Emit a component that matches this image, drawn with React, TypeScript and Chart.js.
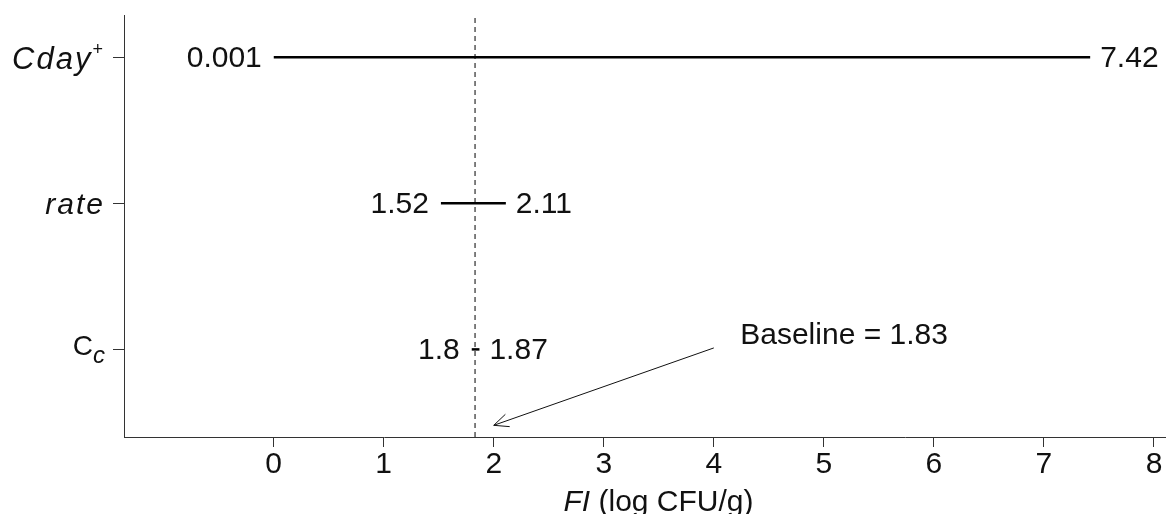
import React, { useEffect, useRef } from 'react';
import { Chart, registerables } from 'chart.js';

Chart.register(...registerables);

const FONT = "'Liberation Sans', Arial, sans-serif";

// Interval rows (bottom to top)
const categories = ['Cc', 'rate', 'Cday+'];
const categoryPos = [1, 2, 3];
const lowerValues = [1.8, 1.52, 0.001];
const upperValues = [1.87, 2.11, 7.42];
const lowerLabels = ['1.8', '1.52', '0.001'];
const upperLabels = ['1.87', '2.11', '7.42'];

// Baseline
const baselineValue = 1.83;
const baselineText = 'Baseline = 1.83';

// Axes
const xTicks = [0, 1, 2, 3, 4, 5, 6, 7, 8];
const xRange = [-1.36, 8.1];
const yRange = [0.4, 3.29];

// Annotation (in data units)
const arrowStart = [4.0, 1.01];
const arrowEnd = [2.0, 0.48];
const textAnchor = [4.24, 1.034];

function drawRich(ctx: CanvasRenderingContext2D, parts: { t: string; font: string; dy: number; ls?: number }[], xRight: number, yBase: number) {
  const widths = parts.map((p) => {
    ctx.font = p.font;
    (ctx as any).letterSpacing = (p.ls || 0) + 'px';
    return ctx.measureText(p.t).width;
  });
  const total = widths.reduce((a, b) => a + b, 0);
  let cx = xRight - total;
  ctx.textAlign = 'left';
  ctx.textBaseline = 'alphabetic';
  parts.forEach((p, i) => {
    ctx.font = p.font;
    (ctx as any).letterSpacing = (p.ls || 0) + 'px';
    ctx.fillText(p.t, cx, yBase + p.dy);
    cx += widths[i];
  });
  (ctx as any).letterSpacing = '0px';
}

const annotationPlugin = {
  id: 'annotations',
  afterDraw(chart: any) {
    const { ctx, scales, chartArea } = chart;
    const x = scales.x;
    const y = scales.y;
    ctx.save();
    ctx.fillStyle = '#111';

    // interval end labels
    ctx.font = `30px ${FONT}`;
    ctx.textBaseline = 'alphabetic';
    categoryPos.forEach((p, i) => {
      const py = y.getPixelForValue(p);
      ctx.textAlign = 'right';
      ctx.fillText(lowerLabels[i], x.getPixelForValue(lowerValues[i]) - 12, py + 10);
      ctx.textAlign = 'left';
      ctx.fillText(upperLabels[i], x.getPixelForValue(upperValues[i]) + 10, py + 10);
    });

    // y category labels (rich text)
    const right = chartArea.left - 21;
    const yC = y.getPixelForValue(categoryPos[0]);
    const yR = y.getPixelForValue(categoryPos[1]);
    const yD = y.getPixelForValue(categoryPos[2]);
    drawRich(ctx, [
      { t: 'C', font: `28px ${FONT}`, dy: 0 },
      { t: 'c', font: `italic 24px ${FONT}`, dy: 8, ls: 0 },
    ], right + 2, yC + 6);
    drawRich(ctx, [{ t: 'rate', font: `italic 30px ${FONT}`, dy: 0, ls: 2 }], right + 2, yR + 11);
    drawRich(ctx, [
      { t: 'Cday', font: `italic 31px ${FONT}`, dy: 0, ls: 2 },
      { t: '+', font: `18px ${FONT}`, dy: -14 },
    ], right, yD + 12);

    // baseline annotation text
    ctx.font = `30px ${FONT}`;
    ctx.textAlign = 'left';
    ctx.textBaseline = 'alphabetic';
    ctx.fillText(baselineText, x.getPixelForValue(textAnchor[0]), y.getPixelForValue(textAnchor[1]));

    // arrow
    const sx = x.getPixelForValue(arrowStart[0]);
    const sy = y.getPixelForValue(arrowStart[1]);
    const ex = x.getPixelForValue(arrowEnd[0]);
    const ey = y.getPixelForValue(arrowEnd[1]);
    ctx.strokeStyle = '#111';
    ctx.lineWidth = 1;
    ctx.beginPath();
    ctx.moveTo(sx, sy);
    ctx.lineTo(ex, ey);
    const ang = Math.atan2(sy - ey, sx - ex);
    const len = 16;
    const spread = 0.42;
    ctx.moveTo(ex + len * Math.cos(ang + spread), ey + len * Math.sin(ang + spread));
    ctx.lineTo(ex, ey);
    ctx.lineTo(ex + len * Math.cos(ang - spread), ey + len * Math.sin(ang - spread));
    ctx.stroke();

    // x axis title: italic "FI" + " (log CFU/g)"
    const titleParts = [
      { t: 'FI', font: `italic 30px ${FONT}` },
      { t: ' (log CFU/g)', font: `30px ${FONT}` },
    ];
    const ws = titleParts.map((p) => { ctx.font = p.font; return ctx.measureText(p.t).width; });
    const tot = ws[0] + ws[1];
    let tx = (chartArea.left + chartArea.right) / 2 + 14 - tot / 2;
    titleParts.forEach((p, i) => {
      ctx.font = p.font;
      ctx.fillText(p.t, tx, 511);
      tx += ws[i];
    });
    ctx.restore();
  },
};

export default function App() {
  const ref = useRef<HTMLCanvasElement>(null);
  useEffect(() => {
    document.body.style.margin = '0';
    const canvas = ref.current;
    if (!canvas) return;

    const datasets: any[] = categories.map((c, i) => ({
      label: c,
      data: [
        { x: lowerValues[i], y: categoryPos[i] },
        { x: upperValues[i], y: categoryPos[i] },
      ],
      showLine: true,
      borderColor: '#000',
      backgroundColor: '#000',
      borderWidth: 2.5,
      borderCapStyle: 'butt',
      pointRadius: 0,
    }));
    datasets.push({
      label: 'Baseline',
      data: [
        { x: baselineValue, y: yRange[0] },
        { x: baselineValue, y: yRange[1] },
      ],
      showLine: true,
      borderColor: '#000',
      borderWidth: 1,
      borderDash: [5, 4],
      pointRadius: 0,
    });

    const chart = new Chart(canvas, {
      type: 'scatter',
      data: { datasets },
      options: {
        animation: false,
        responsive: false,
        layout: { padding: { top: 15, right: 4, left: 0, bottom: 0 } },
        plugins: { legend: { display: false }, tooltip: { enabled: false } },
        scales: {
          x: {
            type: 'linear',
            min: xRange[0],
            max: xRange[1],
            afterBuildTicks: (scale: any) => { scale.ticks = xTicks.map((v) => ({ value: v })); },
            afterFit: (scale: any) => { scale.height = 77; },
            ticks: {
              color: '#111',
              font: { family: FONT, size: 30 },
              padding: 0,
              maxRotation: 0,
              callback: (v: any) => String(v),
            },
            grid: { display: true, drawOnChartArea: false, drawTicks: true, tickLength: 10, color: '#333', lineWidth: 1 },
            border: { display: true, color: '#333', width: 1 },
          },
          y: {
            type: 'linear',
            min: yRange[0],
            max: yRange[1],
            afterBuildTicks: (scale: any) => { scale.ticks = categoryPos.map((v) => ({ value: v })); },
            afterFit: (scale: any) => { scale.width = 124; },
            ticks: { callback: () => '', padding: 0 },
            grid: { display: true, drawOnChartArea: false, drawTicks: true, tickLength: 11, color: '#333', lineWidth: 1 },
            border: { display: true, color: '#333', width: 1 },
          },
        },
      },
      plugins: [annotationPlugin],
    } as any);
    return () => chart.destroy();
  }, []);

  return (
    <div style={{ width: 1169, height: 514, background: '#fff' }}>
      <canvas ref={ref} width={1169} height={514} />
    </div>
  );
}
